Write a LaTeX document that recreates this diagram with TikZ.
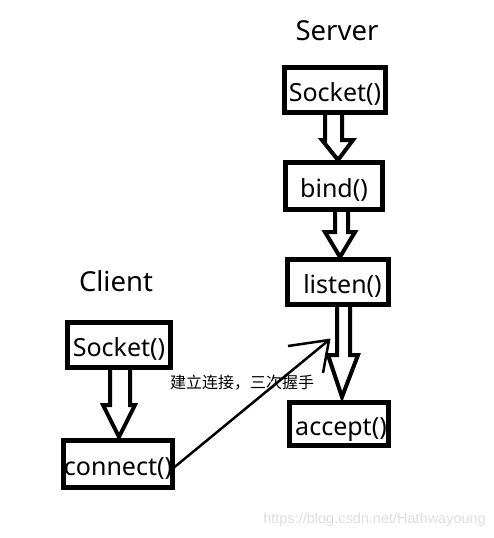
\documentclass[tikz,border=0pt]{standalone}
\usepackage{fontspec}
\setmainfont{Noto Sans}
\newfontfamily\cjkfont{Noto Sans CJK SC}
\newfontfamily\wmfont{Liberation Sans}
\newcommand\boxtxt[1]{\raisebox{-11pt}[0pt][0pt]{#1}}
\begin{document}
\begin{tikzpicture}[x=1pt,y=-1pt,
  box/.style={draw=black,line width=5pt,fill=white,inner sep=0pt,font=\fontsize{25}{28}\selectfont},
  hollow/.style={draw=black,line width=4pt,fill=white,line join=miter},
  title/.style={font=\fontsize{27.5}{30}\selectfont,inner sep=0pt},
  link/.style={draw=black,line width=2.5pt},
]
\useasboundingbox (0,0) rectangle (494,538);
% titles
\node[title] (server) at (337,31) {Server};
\node[title] (client) at (116,281) {Client};
% server boxes
\node[box,minimum width=101pt,minimum height=45pt] (ssock) at (335,90) {\boxtxt{Socket()}};
\node[box,minimum width=97pt,minimum height=47pt] (bind) at (334,186) {\boxtxt{bind()}};
\node[box,minimum width=101pt,minimum height=45pt] (listen) at (338,282) {\boxtxt{\hspace{9pt}listen()}};
\node[box,minimum width=99pt,minimum height=43pt] (accept) at (339,424) {\boxtxt{\hspace{4pt}accept()}};
% client boxes
\node[box,minimum width=103pt,minimum height=45pt] (csock) at (119,345) {\boxtxt{Socket()}};
\node[box,minimum width=105pt,minimum height=47pt] (connect) at (118,464) {\boxtxt{connect()}};
% hollow arrows
\draw[hollow] (325,115) -- (325,140) -- (322,140) -- (338,160) -- (353,140) -- (342,140) -- (342,115);
\draw[hollow] (335,212) -- (335,232) -- (325,232) -- (340,257) -- (355,232) -- (348,232) -- (348,212);
\draw[hollow] (337,307) -- (337,355) -- (328,355) -- (342,397) -- (358,355) -- (350,355) -- (350,307);
\draw[hollow] (110,370) -- (110,405) -- (103,405) -- (119,437) -- (135,405) -- (130,405) -- (130,370);
% connection
\coordinate (tip) at (329,340);
\coordinate (wingL) at (288,346);
\coordinate (wingD) at (323,373);
\draw[link] (connect.east) ++(0,3) -- (tip);
\draw[link] (wingL) -- (tip) -- (wingD);
\node[inner sep=0pt,anchor=west,font=\cjkfont\fontsize{16}{18}\selectfont] (lbl) at (170,383) {建立连接，三次握手};
% watermark
\node[inner sep=0pt,anchor=east,text=black!13,font=\wmfont\fontsize{14.5}{16}\selectfont] (wm) at (486,520) {https://blog.csdn.net/Hathwayoung};
\end{tikzpicture}
\end{document}
